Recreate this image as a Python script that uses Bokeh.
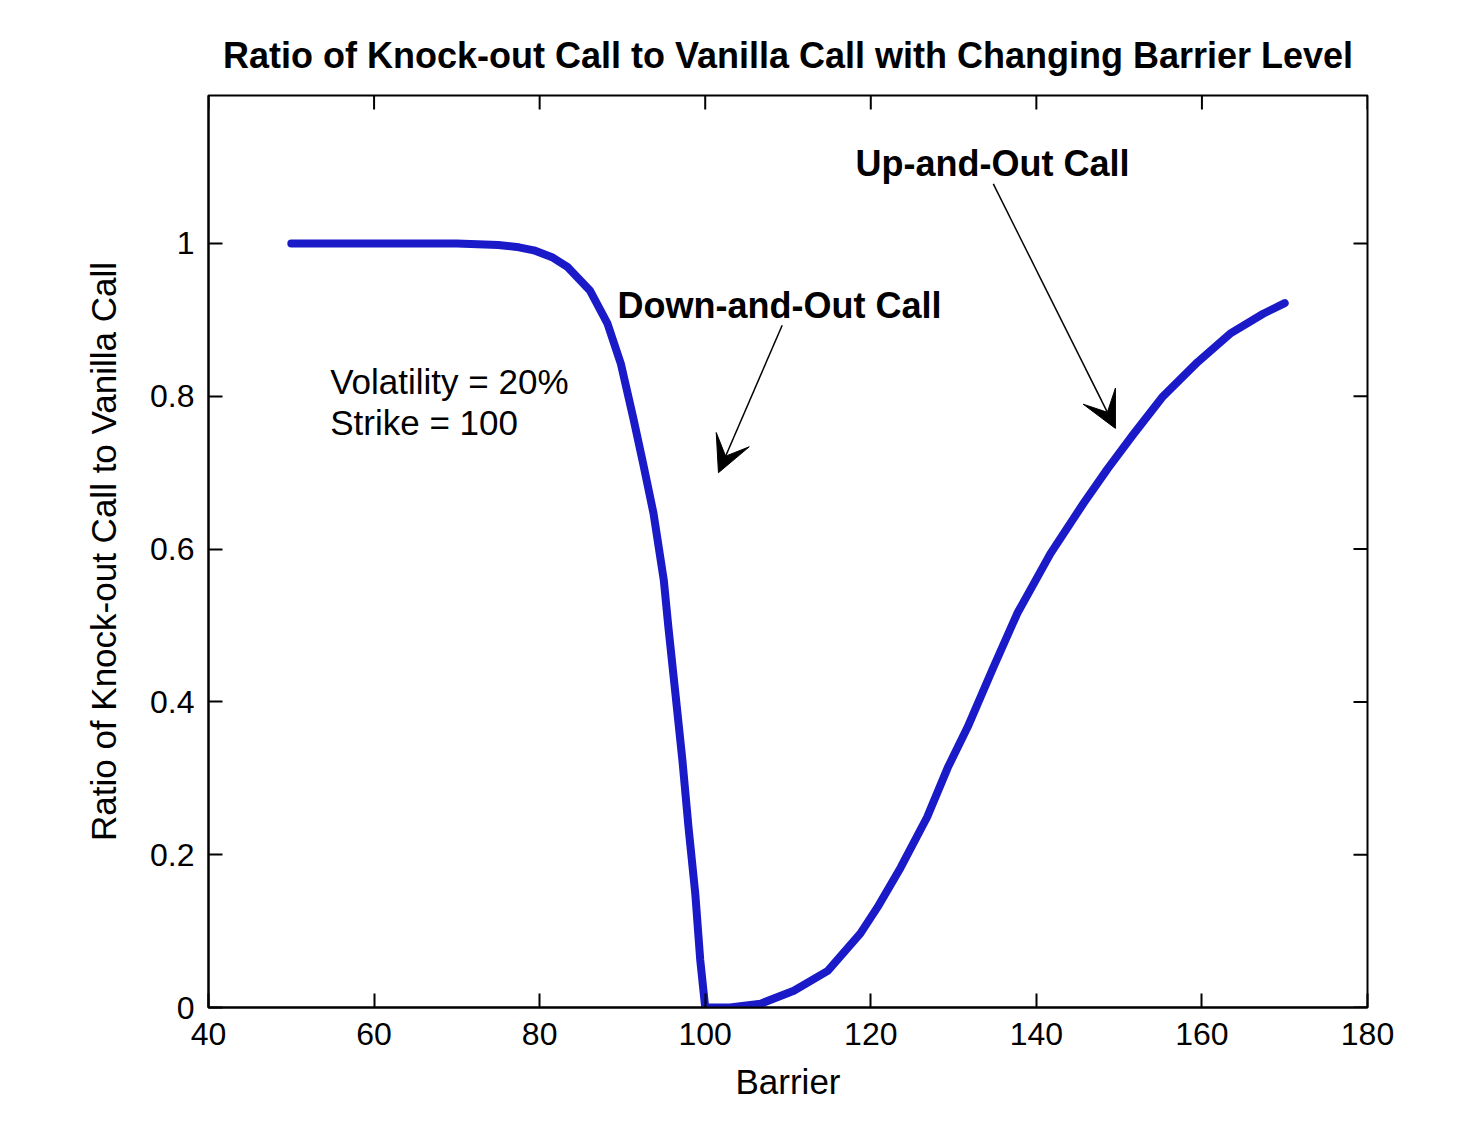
import numpy as np
from bokeh.plotting import figure
from bokeh.models import Range1d, FixedTicker, Label, Arrow, VeeHead
from bokeh.embed import file_html
from bokeh.resources import INLINE

# ---- data ----
barrier = [50, 60, 70, 75, 77.5, 79.3, 81.5, 83.4, 86.1, 88.2, 89.8, 91.3, 92.5, 93.75,
           95.0, 95.56, 96.4, 97.25, 97.98, 98.8, 99.4, 100, 103, 106.7, 110.7, 114.8,
           118.75, 120.8, 123.6, 126.8, 129.3, 131.7, 134.8, 137.7, 141.7, 145.7, 148.6,
           151.7, 155.3, 159.5, 163.4, 167.4, 170]
ratio = [1.0, 1.0, 1.0, 0.998, 0.995, 0.991, 0.982, 0.969, 0.938, 0.895, 0.843, 0.772,
         0.712, 0.647, 0.559, 0.497, 0.411, 0.323, 0.236, 0.149, 0.062, 0.0, 0.0, 0.005,
         0.022, 0.048, 0.097, 0.131, 0.183, 0.249, 0.314, 0.367, 0.445, 0.516, 0.594,
         0.660, 0.705, 0.750, 0.800, 0.845, 0.882, 0.908, 0.922]

x_ticks = [40, 60, 80, 100, 120, 140, 160, 180]
y_ticks = [0, 0.2, 0.4, 0.6, 0.8, 1.0]
y_tick_labels = ["0", "0.2", "0.4", "0.6", "0.8", "1"]

title_text = "Ratio of Knock-out Call to Vanilla Call with Changing Barrier Level"
x_label = "Barrier"
y_label = "Ratio of Knock-out Call to Vanilla Call"
note_lines = ["Volatility = 20%", "Strike = 100"]
note_y = [0.819, 0.766]
note_x = 54.7
down_label = "Down-and-Out Call"
up_label = "Up-and-Out Call"

FONT = "Liberation Sans"
X0, X1, Y0, Y1 = 40, 180, 0, 1.1937

p = figure(width=1466, height=1107, output_backend="svg", toolbar_location=None,
           x_range=Range1d(X0, X1), y_range=Range1d(Y0, Y1),
           min_border_left=208, min_border_right=99, min_border_top=95,
           min_border_bottom=100, background_fill_color="white",
           border_fill_color="white")

p.title.text = title_text
p.title.text_font = FONT
p.title.text_font_size = "36px"
p.title.text_font_style = "bold"
p.title.align = "center"
p.title.text_color = "black"
p.title.standoff = 40

p.grid.visible = False
p.outline_line_color = "black"
p.outline_line_width = 2

for ax in p.xaxis + p.yaxis:
    ax.major_tick_in = 14
    ax.major_tick_out = 0
    ax.minor_tick_line_color = None
    ax.axis_line_width = 2
    ax.major_tick_line_width = 2
    ax.major_label_text_font = FONT
    ax.major_label_text_font_size = "32px"
    ax.major_label_text_color = "black"
    ax.axis_label_text_font = FONT
    ax.axis_label_text_font_size = "35px"
    ax.axis_label_text_font_style = "normal"
    ax.axis_label_text_color = "black"

p.xaxis.ticker = FixedTicker(ticks=x_ticks)
p.yaxis.ticker = FixedTicker(ticks=y_ticks)
p.yaxis.major_label_overrides = {v: s for v, s in zip(y_ticks, y_tick_labels)}
p.xaxis.axis_label = x_label
p.yaxis.axis_label = y_label
p.xaxis.major_label_standoff = 15
p.xaxis.axis_label_standoff = 14
p.yaxis.major_label_standoff = 14
p.yaxis.axis_label_standoff = 24

# inward ticks on the top and right edges of the box (no labels there)
p.ray(x=x_ticks, y=[Y1] * len(x_ticks), length=14, length_units="screen",
      angle=-np.pi / 2, line_color="black", line_width=2)
p.ray(x=[X1] * len(y_ticks), y=y_ticks, length=14, length_units="screen",
      angle=np.pi, line_color="black", line_width=2)

p.line(barrier, ratio, line_color="#1a1ac8", line_width=8, line_join="round",
       line_cap="round")

for t, yy in zip(note_lines, note_y):
    p.add_layout(Label(x=note_x, y=yy, text=t, text_font=FONT, text_font_size="35px",
                       text_baseline="middle", text_color="black"))

p.add_layout(Label(x=89.4, y=0.919, text=down_label, text_font=FONT, text_font_size="36px",
                   text_font_style="bold", text_baseline="middle", text_color="black"))
p.add_layout(Label(x=118.15, y=1.105, text=up_label, text_font=FONT, text_font_size="36px",
                   text_font_style="bold", text_baseline="middle", text_color="black"))

p.add_layout(Arrow(x_start=109.3, y_start=0.893, x_end=101.6, y_end=0.700,
                   line_width=1.5, line_color="black",
                   end=VeeHead(size=36, fill_color="black", line_color="black")))
p.add_layout(Arrow(x_start=134.8, y_start=1.078, x_end=149.55, y_end=0.758,
                   line_width=1.5, line_color="black",
                   end=VeeHead(size=36, fill_color="black", line_color="black")))

open("out.html", "w").write(file_html(p, INLINE))
